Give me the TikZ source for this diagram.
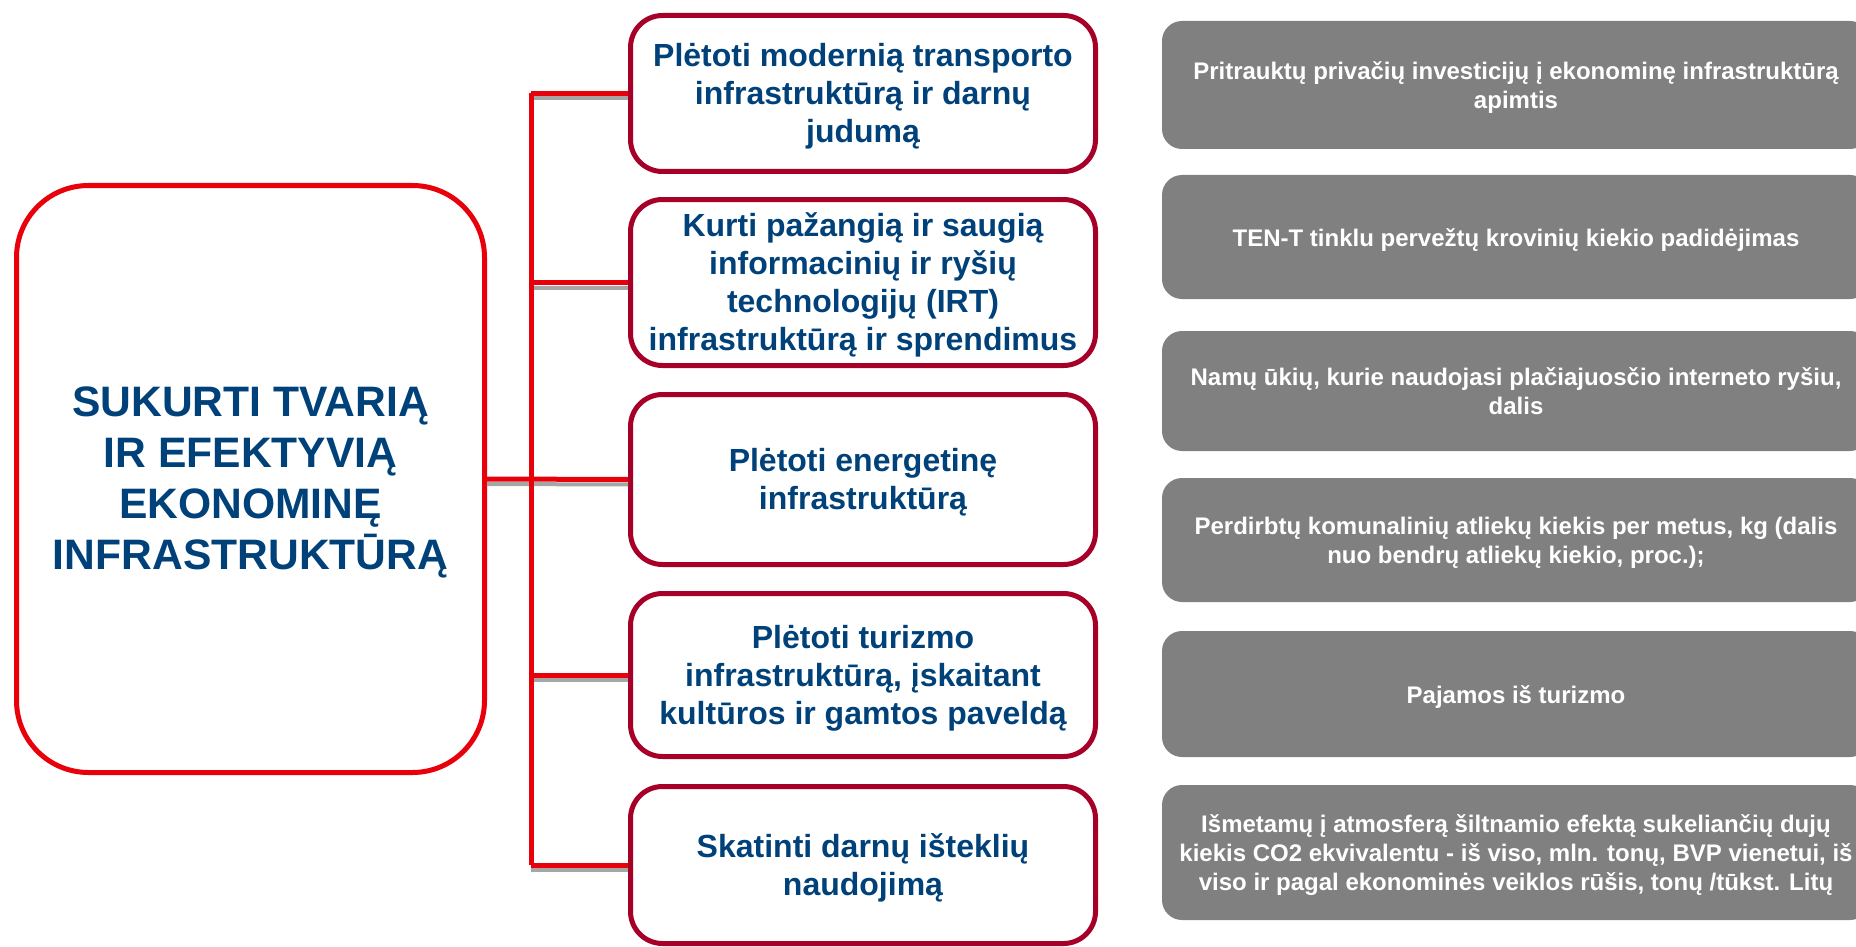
\documentclass[tikz,border=0pt]{standalone}
\usepackage{fontspec}
\setmainfont{Liberation Sans}
\definecolor{goalred}{RGB}{232,0,10}
\definecolor{boxred}{RGB}{166,0,40}
\definecolor{textblue}{RGB}{0,65,122}
\definecolor{indgray}{RGB}{128,128,128}
\newcommand{\boxlines}[1]{\raisebox{-3.5pt}[\height][\depth]{\begin{tabular}{@{}c@{}}#1\end{tabular}}}
\begin{document}
\begin{tikzpicture}[x=1pt,y=-1pt,
    goalbox/.style={draw=goalred,line width=5pt,rounded corners=72pt,minimum width=468pt,minimum height=587pt,
        inner sep=0pt,text=textblue,font=\bfseries\fontsize{42.6}{51}\selectfont},
    taskbox/.style={draw=boxred,line width=5pt,rounded corners=32pt,minimum width=465pt,inner sep=0pt,
        text=textblue,font=\bfseries\fontsize{32}{38}\selectfont},
    indbox/.style={fill=indgray,rounded corners=20pt,minimum width=708pt,inner sep=0pt,
        text=white,font=\bfseries\fontsize{24}{29}\selectfont},
    link/.style={goalred,line width=5pt},
    linkshadow/.style={indgray!70,line width=4pt}]
                \useasboundingbox (0,0) rectangle (1856,947);
                \clip (0,0) rectangle (1856,947);
                \node[goalbox] (goal) at (250.5,479) {\boxlines{SUKURTI TVARIĄ\\IR EFEKTYVIĄ\\EKONOMINĘ\\INFRASTRUKTŪRĄ}};
                \node[taskbox,minimum height=156pt] (m1) at (863,93.5) {\boxlines{Plėtoti modernią transporto\\infrastruktūrą ir darnų\\judumą}};
                \node[taskbox,minimum height=166pt] (m2) at (863,282.5) {\boxlines{Kurti pažangią ir saugią\\informacinių ir ryšių\\technologijų (IRT)\\infrastruktūrą ir sprendimus}};
                \node[taskbox,minimum height=170pt] (m3) at (863,479.5) {\boxlines{Plėtoti energetinę\\infrastruktūrą}};
                \node[taskbox,minimum height=163pt] (m4) at (863,675) {\boxlines{Plėtoti turizmo\\infrastruktūrą, įskaitant\\kultūros ir gamtos paveldą}};
                \node[taskbox,minimum height=157pt] (m5) at (863,865) {\boxlines{Skatinti darnų išteklių\\naudojimą}};
                \node[indbox,minimum height=128pt] (i1) at (1516,85) {\boxlines{Pritrauktų privačių investicijų į ekonominę infrastruktūrą\\apimtis}};
                \node[indbox,minimum height=124pt] (i2) at (1516,237) {\boxlines{TEN-T tinklu pervežtų krovinių kiekio padidėjimas}};
                \node[indbox,minimum height=120pt] (i3) at (1516,391) {\boxlines{Namų ūkių, kurie naudojasi plačiajuosčio interneto ryšiu,\\dalis}};
                \node[indbox,minimum height=124pt] (i4) at (1516,540) {\boxlines{Perdirbtų komunalinių atliekų kiekis per metus, kg (dalis\\nuo bendrų atliekų kiekio, proc.);}};
                \node[indbox,minimum height=126pt] (i5) at (1516,694) {\boxlines{Pajamos iš turizmo}};
                \node[indbox,minimum height=135pt] (i6) at (1516,852.5) {\boxlines{Išmetamų į atmosferą šiltnamio efektą sukeliančių dujų\\kiekis CO2 ekvivalentu - iš viso, mln. tonų, BVP vienetui, iš\\viso ir pagal ekonominės veiklos rūšis, tonų /tūkst. Litų}};
                \coordinate (spine) at (531,0);
                \foreach \m in {m1,m2,m4,m5} {
                    \draw[linkshadow] ([yshift=-5pt]spine |- \m.west) -- ([yshift=-5pt]\m.west);
                }
                \draw[linkshadow] ([yshift=-5pt]goal.east) -- ([yshift=-5pt]m3.west);
                \draw[link] (spine |- m1.west) -- (spine |- m5.west);
                \foreach \m in {m1,m2,m4,m5} {
                    \draw[link] (spine |- \m.west) -- (\m.west);
                }
                \draw[link] (goal.east) -- (m3.west);
            \end{tikzpicture}
\end{document}
